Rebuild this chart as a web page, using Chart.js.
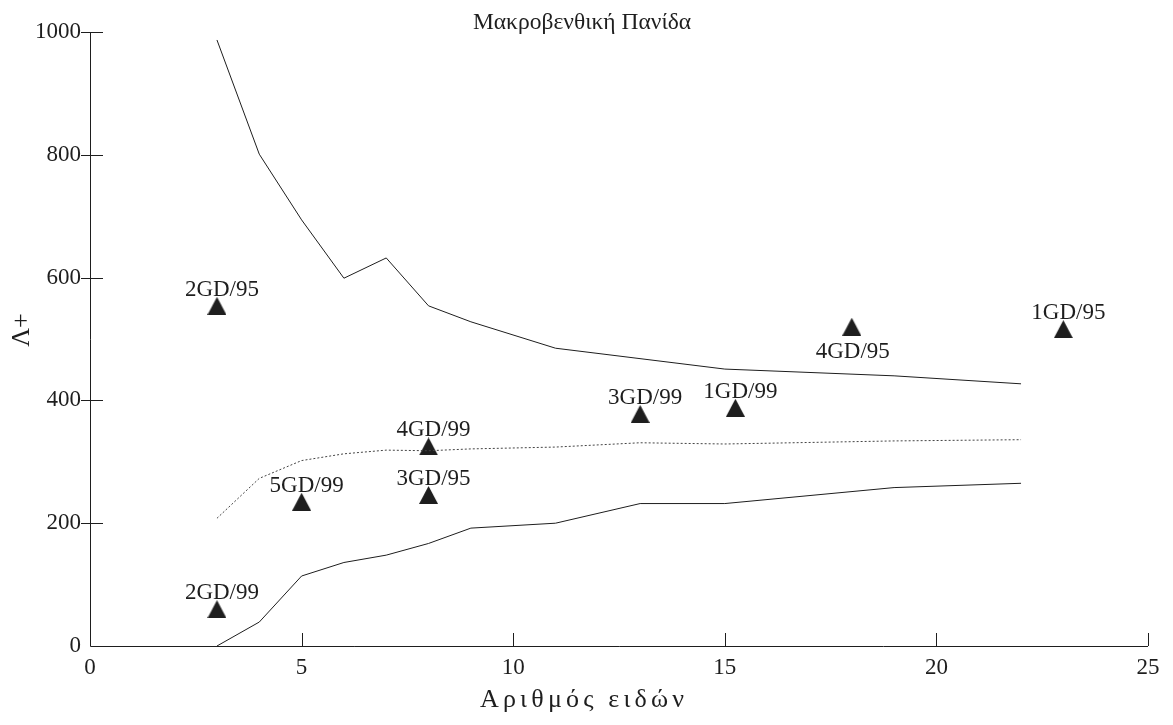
<!DOCTYPE html>
<html>
<head>
<meta charset="utf-8">
<script src="https://cdn.jsdelivr.net/npm/chart.js@4.4.1/dist/chart.umd.min.js"></script>
<style>
  html, body { margin: 0; padding: 0; background: #fff; }
  canvas { display: block; }
</style>
</head>
<body>
<canvas id="chart" width="1173" height="725"></canvas>
<script>
// Titles
const chartTitle = 'Μακροβενθική Πανίδα';
const xAxisTitle = 'Αριθμός ειδών';
const yAxisTitle = 'Λ+';

// Axis ticks
const xTicks = [0, 5, 10, 15, 20, 25];
const yTicks = [0, 200, 400, 600, 800, 1000];

// Funnel: upper limit
const upperSpecies = [3, 4, 5, 6, 7, 8, 9, 11, 15, 19, 22];
const upperLambda  = [987, 801, 694, 599, 632, 554, 528, 485, 451, 440, 427];

// Funnel: mean (dotted)
const meanSpecies = [3, 4, 5, 6, 7, 8, 9, 11, 13, 15, 19, 22];
const meanLambda  = [208, 273, 302, 313, 319, 318, 321, 324, 331, 329, 334, 336];

// Funnel: lower limit
const lowerSpecies = [3, 4, 5, 6, 7, 8, 9, 11, 13, 15, 19, 22];
const lowerLambda  = [0, 39, 114, 136, 148, 167, 192, 200, 232, 232, 258, 265];

// Stations
const stationNames   = ['2GD/95', '2GD/99', '5GD/99', '3GD/95', '4GD/99', '3GD/99', '1GD/99', '4GD/95', '1GD/95'];
const stationSpecies = [3, 3, 5, 8, 8, 13, 15.25, 18, 23];
const stationLambda  = [554, 60, 235, 246, 325, 378, 388, 520, 516];
const labelsBelow    = ['4GD/95'];

const serif = '"Liberation Serif", "Times New Roman", serif';
const ink = '#1e1e1e';

const pairs = (xs, ys) => xs.map((v, i) => ({ x: v, y: ys[i] }));

// Filled triangle marker, box centred on the point
function triangleMarker(w, h) {
  const c = document.createElement('canvas');
  c.width = w; c.height = h;
  const g = c.getContext('2d');
  g.fillStyle = ink;
  g.beginPath();
  g.moveTo(w / 2, 0);
  g.lineTo(w, h);
  g.lineTo(0, h);
  g.closePath();
  g.fill();
  return c;
}
const marker = triangleMarker(19, 18);

// Text spread evenly over a given width, centred on cx
function spreadText(ctx, text, cx, cy, width) {
  const chars = Array.from(text);
  const widths = chars.map(ch => ctx.measureText(ch).width);
  const natural = widths.reduce((s, w) => s + w, 0);
  const gap = chars.length > 1 ? (width - natural) / (chars.length - 1) : 0;
  let x = cx - width / 2;
  ctx.textAlign = 'left';
  chars.forEach((ch, i) => {
    ctx.fillText(ch, x, cy);
    x += widths[i] + gap;
  });
  ctx.textAlign = 'center';
}

// Axis lines, inward ticks and all free text
const decorations = {
  id: 'decorations',
  afterDraw(chart) {
    const { ctx, chartArea: a, scales: { x, y } } = chart;
    ctx.save();
    ctx.strokeStyle = ink;
    ctx.lineWidth = 1;
    ctx.beginPath();
    ctx.moveTo(a.left + 0.5, a.top);
    ctx.lineTo(a.left + 0.5, a.bottom + 0.5);
    ctx.lineTo(a.right, a.bottom + 0.5);
    y.ticks.forEach(t => {
      if (t.value === 0) return;
      const py = Math.round(y.getPixelForValue(t.value)) + 0.5;
      ctx.moveTo(a.left - 9, py);
      ctx.lineTo(a.left + 13, py);
    });
    x.ticks.forEach(t => {
      if (t.value === 0) return;
      const px = Math.round(x.getPixelForValue(t.value)) + 0.5;
      ctx.moveTo(px, a.bottom - 13);
      ctx.lineTo(px, a.bottom);
    });
    ctx.stroke();

    ctx.fillStyle = ink;
    ctx.textAlign = 'center';
    ctx.textBaseline = 'middle';
    ctx.font = '23.5px ' + serif;
    ctx.fillText(chartTitle, 582, 23);
    ctx.font = '26px ' + serif;
    spreadText(ctx, xAxisTitle, 582, 700, 204);

    ctx.save();
    ctx.translate(22, 330);
    ctx.rotate(-Math.PI / 2);
    ctx.font = '26px ' + serif;
    ctx.fillText(yAxisTitle, 0, 0);
    ctx.restore();

    // Station labels
    const meta = chart.getDatasetMeta(3);
    ctx.font = '23px ' + serif;
    ctx.textBaseline = 'alphabetic';
    meta.data.forEach((pt, i) => {
      const name = stationNames[i];
      if (labelsBelow.includes(name)) {
        ctx.fillText(name, pt.x + 1, pt.y + 31);
      } else {
        ctx.fillText(name, pt.x + 5, pt.y - 10);
      }
    });
    ctx.restore();
  }
};

new Chart(document.getElementById('chart'), {
  type: 'scatter',
  data: {
    datasets: [
      {
        data: pairs(upperSpecies, upperLambda),
        showLine: true, borderColor: ink, borderWidth: 1,
        pointRadius: 0, tension: 0
      },
      {
        data: pairs(meanSpecies, meanLambda),
        showLine: true, borderColor: '#444', borderWidth: 1, borderDash: [2, 2],
        pointRadius: 0, tension: 0
      },
      {
        data: pairs(lowerSpecies, lowerLambda),
        showLine: true, borderColor: ink, borderWidth: 1,
        pointRadius: 0, tension: 0
      },
      {
        data: pairs(stationSpecies, stationLambda),
        showLine: false, pointStyle: marker, pointRadius: 10
      }
    ]
  },
  options: {
    responsive: false,
    animation: false,
    devicePixelRatio: 1,
    layout: { padding: { top: 32, right: 25, bottom: 0, left: 0 } },
    plugins: { legend: { display: false }, tooltip: { enabled: false } },
    scales: {
      x: {
        type: 'linear', min: 0, max: 25,
        afterBuildTicks: s => { s.ticks = xTicks.map(v => ({ value: v })); },
        afterFit: s => { s.height = 79; },
        grid: { display: false, drawTicks: false },
        border: { display: false },
        ticks: {
          color: ink, font: { family: serif, size: 23 }, padding: 8, maxRotation: 0,
          callback: v => String(v)
        }
      },
      y: {
        type: 'linear', min: 0, max: 1000,
        afterBuildTicks: s => { s.ticks = yTicks.map(v => ({ value: v })); },
        afterFit: s => { s.width = 90; },
        grid: { display: false, drawTicks: false },
        border: { display: false },
        ticks: {
          color: ink, font: { family: serif, size: 23 }, padding: 9,
          callback: v => String(v)
        }
      }
    }
  },
  plugins: [decorations]
});
</script>
</body>
</html>
